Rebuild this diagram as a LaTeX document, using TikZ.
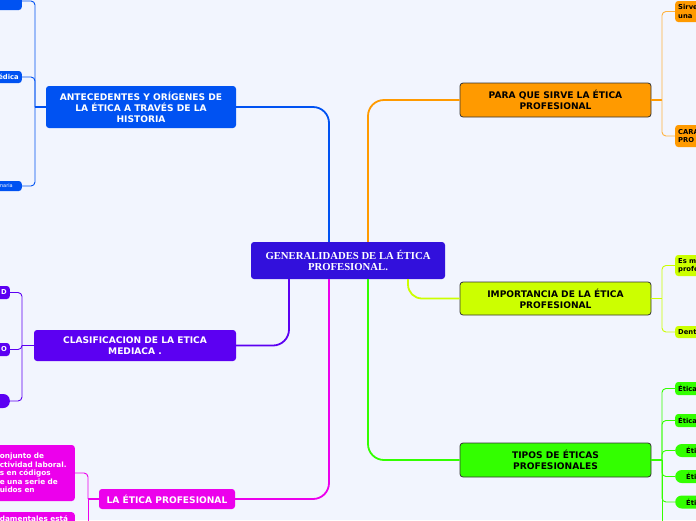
\documentclass[tikz,border=0pt]{standalone}
\usepackage{fontspec}
\setmainfont{Liberation Serif}
\setsansfont{DejaVu Sans}
\usepackage{xcolor}
\usepackage{tikz}
\definecolor{mapbg}{HTML}{F2F5FE}
\definecolor{mapindigo}{HTML}{3210DC}
\definecolor{mapblue}{HTML}{0052F2}
\definecolor{mapviolet}{HTML}{5C00F2}
\definecolor{mapmagenta}{HTML}{EC00EC}
\definecolor{maporange}{HTML}{FF9A00}
\definecolor{maplime}{HTML}{CCFF00}
\definecolor{mapgreen}{HTML}{33FF00}

\begin{document}
\begin{tikzpicture}[x=1pt, y=-1pt,
  topic/.style={rounded corners=3pt, align=center, inner sep=0pt, font=\sffamily\bfseries\fontsize{9.1}{11}\selectfont},
  lefttopic/.style={topic, text=white},
  righttopic/.style={topic, draw=black!80, line width=0.8pt, text=black, minimum width=191pt},
  leaf/.style={rounded corners=3pt, inner sep=3pt, font=\sffamily\bfseries\fontsize{6.8}{8.4}\selectfont},
  leftleaf/.style={leaf, text=white, anchor=east, text width=60pt, align=right},
  rightleaf/.style={leaf, text=black, anchor=west, text width=60pt, align=left},
  pill/.style={rounded corners=6.5pt, inner xsep=11pt},
  branch/.style={line width=1.8pt, rounded corners=16pt},
  stem/.style={line width=1.4pt},
  twig/.style={line width=0.9pt, rounded corners=4pt}]
  \useasboundingbox (0,0) rectangle (696,520);
  \fill[mapbg] (0,0) rectangle (696,520);
  \clip (0,0) rectangle (696,520);

  \node[rounded corners=3pt, fill=mapindigo, text=white, align=center, inner sep=0pt, minimum width=194pt, minimum height=37pt, font=\bfseries\fontsize{10.7}{11.5}\selectfont] (ctr) at (348,260.5) {GENERALIDADES DE LA ÉTICA\\PROFESIONAL.};

  \node[lefttopic, fill=mapblue, minimum width=190pt, minimum height=42pt] (ant) at (141,107) {ANTECEDENTES Y ORÍGENES DE\\LA ÉTICA A TRAVÉS DE LA\\HISTORIA};
  \node[lefttopic, fill=mapviolet, minimum width=202pt, minimum height=31pt] (cla) at (135,345.5) {CLASIFICACION DE LA ETICA\\MEDIACA .};
  \node[lefttopic, fill=mapmagenta, minimum width=136pt, minimum height=20pt] (lep) at (167,499) {LA ÉTICA PROFESIONAL};
  \node[righttopic, fill=maporange, minimum height=34pt] (para) at (555.5,100) {PARA QUE SIRVE LA ÉTICA\\PROFESIONAL};
  \node[righttopic, fill=maplime, minimum height=33pt] (imp) at (555.5,298.5) {IMPORTANCIA DE LA ÉTICA\\PROFESIONAL};
  \node[righttopic, fill=mapgreen, minimum height=34pt] (tip) at (555.5,460) {TIPOS DE ÉTICAS\\PROFESIONALES};

  \node[leftleaf, fill=mapblue, minimum height=18pt] (ant1) at (22,1) {};
  \node[leftleaf, fill=mapblue, minimum height=12pt] (ant2) at (22,77) {édica};
  \node[leftleaf, fill=mapblue, minimum height=10pt, inner xsep=9pt, font=\sffamily\fontsize{5}{6}\selectfont] (ant3) at (22,186) {maria};
  \node[leftleaf, fill=mapviolet, minimum height=13pt] (cla1) at (10,292.5) {D};
  \node[leftleaf, fill=mapviolet, minimum height=13pt] (cla2) at (10,349.5) {O};
  \node[leftleaf, pill, fill=mapviolet, minimum height=14pt] (cla3) at (10,401) {};
  \node[leftleaf, fill=mapmagenta, align=left, text width=72pt, minimum height=56pt, font=\sffamily\bfseries\fontsize{7.3}{8.4}\selectfont] (lep1) at (75,473) {onjunto de\\ctividad laboral.\\s en códigos\\e una serie de\\uidos en};
  \node[leftleaf, fill=mapmagenta, anchor=north east, align=left, text width=72pt, font=\sffamily\bfseries\fontsize{7.3}{8.4}\selectfont] (lep2) at (75,512) {damentales está};

  \node[rightleaf, fill=maporange, minimum height=21pt] (para1) at (675,11.5) {Sirve\\una};
  \node[rightleaf, fill=maporange, minimum height=22pt] (para2) at (675,136) {CARA\\PRO};
  \node[rightleaf, fill=maplime, minimum height=21pt] (imp1) at (675,265.5) {Es m\\profe};
  \node[rightleaf, fill=maplime, minimum height=12pt] (imp2) at (675,332) {Dent};
  \node[rightleaf, fill=mapgreen, minimum height=13pt] (tip1) at (675,388.5) {Ética};
  \node[rightleaf, fill=mapgreen, minimum height=13pt] (tip2) at (675,420.5) {Ética};
  \node[rightleaf, pill, fill=mapgreen, minimum height=13pt] (tip3) at (675,450.5) {Éti};
  \node[rightleaf, pill, fill=mapgreen, minimum height=13pt] (tip4) at (675,476.5) {Éti};
  \node[rightleaf, pill, fill=mapgreen, minimum height=13pt] (tip5) at (675,502) {Éti};

  \coordinate (antj) at (35,107);
  \coordinate (claj) at (22,345.5);
  \coordinate (lepj) at (88,499);
  \coordinate (lepend) at (88,530);
  \coordinate (paraj) at (662,100);
  \coordinate (impj) at (662,298.5);
  \coordinate (tipj) at (662,460);
  \coordinate (tipend) at (662,530);

  \draw[branch, mapblue] (ant.east) -| ([xshift=-19pt]ctr.north);
  \draw[branch, maporange] (para.west) -| ([xshift=20pt]ctr.north);
  \draw[branch, mapviolet] (cla.east) -| ([xshift=-59pt]ctr.south);
  \draw[branch, mapmagenta] (lep.east) -| ([xshift=-19pt]ctr.south);
  \draw[branch, maplime, rounded corners=14pt] (imp.west) -| ([xshift=60pt]ctr.south);
  \draw[branch, mapgreen] (tip.west) -| ([xshift=20pt]ctr.south);

  \draw[stem, mapblue] (ant.west) -- (antj);
  \foreach \n in {ant1,ant2,ant3} \draw[twig, mapblue] (antj) |- (\n.east);
  \draw[stem, mapviolet] (cla.west) -- (claj);
  \foreach \n in {cla1,cla2,cla3} \draw[twig, mapviolet] (claj) |- (\n.east);
  \draw[stem, mapmagenta] (lep.west) -- (lepj);
  \draw[twig, mapmagenta] (lepj) |- (lep1.east);
  \draw[twig, mapmagenta] (lepj) -- (lepend);
  \draw[stem, maporange] (para.east) -- (paraj);
  \foreach \n in {para1,para2} \draw[twig, maporange!75] (paraj) |- (\n.west);
  \draw[stem, maplime] (imp.east) -- (impj);
  \foreach \n in {imp1,imp2} \draw[twig, maplime] (impj) |- (\n.west);
  \draw[stem, mapgreen] (tip.east) -- (tipj);
  \foreach \n in {tip1,tip2,tip3,tip4,tip5} \draw[twig, mapgreen] (tipj) |- (\n.west);
  \draw[twig, mapgreen] (tipj) -- (tipend);
\end{tikzpicture}
\end{document}
